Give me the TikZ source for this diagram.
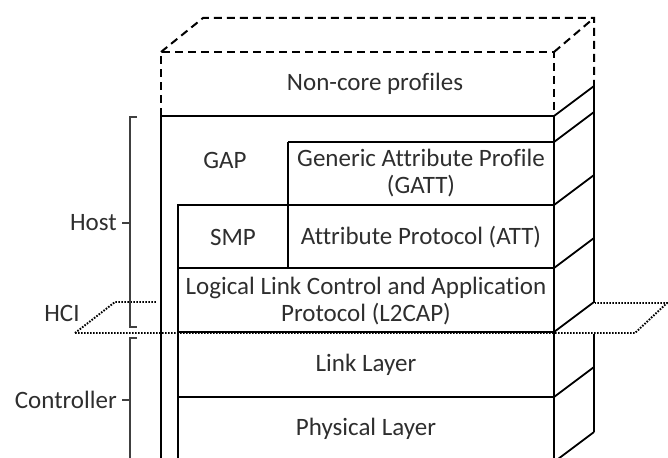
\documentclass[tikz,border=0pt]{standalone}
\usepackage{fontspec}
\setmainfont{Carlito}[Ligatures=NoCommon]
\begin{document}
\begin{tikzpicture}[x=1pt,y=-1pt,
  lay/.style={line width=1.8pt},
  edge/.style={line width=2.6pt},
  dsh/.style={line width=2pt,dash pattern=on 8pt off 5pt},
  hci/.style={line width=1.9pt,dash pattern=on 1.6pt off 1.4pt},
  brc/.style={line width=1.1pt,black!75},
  lbl/.style={font=\fontsize{25}{27}\selectfont,text=black!82,align=center,inner sep=0pt}]
\useasboundingbox (0,0) rectangle (668,457);
% coordinates
\coordinate (ftl) at (161,52);
\coordinate (ftr) at (554,52);
\coordinate (btl) at (203,18);
\coordinate (btr) at (594,18);
% dashed non-core box
\draw[dsh] (161,116) -- (ftl) -- (ftr) -- (554,116);
\draw[dsh] (ftl) -- (btl) -- (btr) -- (594,80);
\draw[dsh] (ftr) -- (btr);
% front solid box
\draw[lay] (161,470) -- (161,116) -- (554,116);
\draw[edge] (554,116) -- (554,470);
% inner layers
\draw[lay] (288,142) -- (554,142);
\draw[lay] (288,142) -- (288,268);
\draw[lay] (178,470) -- (178,205) -- (554,205);
\draw[lay] (178,268) -- (554,268);
\draw[lay] (178,332) -- (554,332);
\draw[lay] (178,397) -- (554,397);
% side
\draw[lay] (594,80) -- (594,303);
\draw[lay] (594,334) -- (594,432);
\foreach \y in {116,142,205,268,332,397,462}
  \draw[lay] (554,\y) -- (594,\y-30);
% HCI plane
\draw[hci] (75,333) -- (115,302) -- (157,302);
\draw[hci] (75,333) -- (635,333) -- (667,303) -- (595,303);
% braces
\draw[brc] (137,117) -- (130,117) -- (130,327) -- (137,327);
\draw[brc] (130,223) -- (122,223);
\draw[brc] (137,338) -- (130,338) -- (130,470);
\draw[brc] (130,400) -- (122,400);
% labels
\node[lbl] (noncore) at (375,84) {Non-core profiles};
\node[lbl] (gap) at (225,160) {GAP};
\node[lbl] (gatt) at (421,173) {Generic Attribute Profile\\(GATT)};
\node[lbl] (smp) at (233,237) {SMP};
\node[lbl] (att) at (421,237) {Attribute Protocol (ATT)};
\node[lbl] (l2cap) at (366,301) {Logical Link Control and Application\\Protocol (L2CAP)};
\node[lbl] (ll) at (366,365) {Link Layer};
\node[lbl] (phy) at (366,429) {Physical Layer};
\node[lbl,anchor=east] (host) at (117,223) {Host};
\node[lbl] (hcil) at (62,313) {HCI};
\node[lbl,anchor=east] (ctrl) at (117,400) {Controller};
\end{tikzpicture}
\end{document}
